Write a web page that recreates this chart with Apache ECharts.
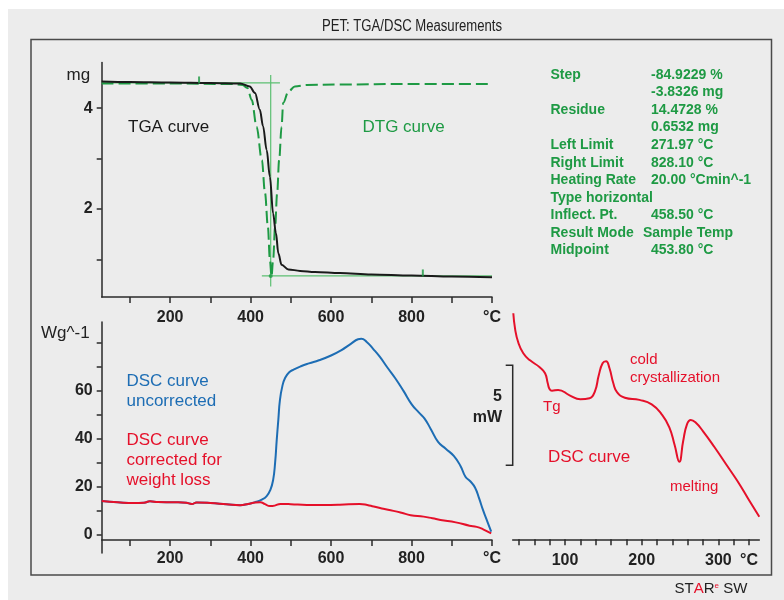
<!DOCTYPE html>
<html>
<head>
<meta charset="utf-8">
<script src="https://cdn.jsdelivr.net/npm/echarts@6/dist/echarts.min.js"></script>
<style>
html,body{margin:0;padding:0;background:#fff;}
#main{width:784px;height:600px;}
</style>
</head>
<body>
<div id="main"></div>
<script>
// ---- TGA / DTG (top panel), temperature in °C, mass in mg ----
const tgaTemp = [30, 100, 200, 300, 374, 398, 411, 423, 431, 440, 448, 456, 463, 469, 477, 494, 523, 560, 622, 700, 800, 900, 1000];
const tgaMass = [4.53, 4.52, 4.51, 4.50, 4.49, 4.43, 4.30, 3.97, 3.64, 3.17, 2.64, 1.91, 1.52, 1.12, 0.89, 0.80, 0.77, 0.75, 0.73, 0.70, 0.68, 0.66, 0.645];

const dtgTemp = [30, 200, 350, 380, 392, 403, 415, 428, 436, 443, 448, 452, 456, 461, 466, 471, 477, 481, 494, 510, 540, 620, 800, 1000];
const dtgValue = [4.49, 4.49, 4.48, 4.46, 4.40, 4.16, 3.63, 2.97, 2.31, 1.65, 0.99, 0.66, 0.99, 1.65, 2.31, 2.97, 3.63, 4.10, 4.33, 4.43, 4.46, 4.47, 4.48, 4.48];

// evaluation limits and step lines
const stepTop = 4.50;
const stepBottom = 0.67;
const stepTopEnd = 473;
const stepBottomStart = 428;
const midTemp = 450;
const midLineSpan = [0.46, 4.66];
const leftLimit = 271.97;
const rightLimit = 828.10;

// ---- DSC during decomposition (bottom-left panel), Wg^-1 ----
const dscRawTemp = [30, 70, 110, 135, 150, 170, 210, 240, 254, 266, 300, 340, 374, 394, 412, 428, 440, 449, 456, 461, 465, 469, 473, 479, 486, 496, 508, 525, 545, 570, 600, 625, 650, 667, 675, 688, 705, 721, 740, 760, 780, 800, 818, 832, 848, 866, 885, 905, 922, 934, 946, 958, 968, 978, 988, 998];
const dscRawValue = [13.9, 13.4, 13.1, 13.2, 13.8, 13.5, 13.4, 13.2, 12.7, 13.3, 13.1, 12.6, 12.2, 12.7, 13.5, 14.5, 16.0, 18.5, 22.7, 30.0, 39.5, 48.0, 56.2, 62.0, 65.5, 67.8, 69.0, 70.3, 71.5, 72.8, 74.8, 77.0, 79.8, 81.6, 81.8, 80.6, 77.5, 74.3, 69.8, 65.2, 60.0, 54.5, 51.0, 48.5, 44.0, 38.7, 35.8, 32.8, 28.5, 24.1, 22.2, 19.5, 15.0, 10.0, 5.5, 1.1];

const dscCorrTemp = [30, 70, 110, 135, 150, 170, 210, 240, 254, 266, 300, 340, 374, 394, 412, 424, 436, 448, 460, 474, 500, 540, 580, 622, 671, 690, 706, 730, 755, 775, 798, 830, 852, 872, 910, 944, 962, 978, 998];
const dscCorrValue = [13.9, 13.4, 13.1, 13.2, 13.8, 13.5, 13.4, 13.2, 12.7, 13.3, 13.1, 12.6, 12.2, 12.7, 13.3, 13.4, 12.6, 11.8, 12.0, 12.7, 12.6, 12.3, 12.3, 12.4, 12.7, 12.3, 11.6, 10.7, 9.8, 9.0, 8.0, 7.4, 6.7, 6.0, 5.0, 3.6, 3.1, 2.1, 0.4];

// ---- DSC of PET up to the melt (bottom-right panel), mW ----
const dscPetTemp = [32.6, 35, 39, 45.6, 54.4, 67, 74, 77.5, 80, 83, 91, 106, 120, 132, 139, 144, 149, 153.5, 158, 163, 168, 178, 197, 213, 226, 236, 243, 249, 254, 259, 264, 270, 280, 295, 310, 325, 340, 353.3];
const dscPetValue = [11.3, 10.5, 9.85, 9.3, 8.95, 8.6, 8.3, 7.8, 7.5, 7.43, 7.47, 7.2, 7.0, 7.05, 7.4, 8.2, 8.8, 8.9, 8.55, 7.8, 7.35, 7.08, 6.97, 6.75, 6.25, 5.6, 4.7, 3.88, 4.9, 5.75, 5.97, 5.85, 5.4, 4.6, 3.75, 2.9, 1.95, 1.13];
const scaleBar = [3.7, 8.7]; // 5 mW

// ---- axis ticks and labels ----
const tempTicks = [100, 200, 300, 400, 500, 600, 700, 800, 900, 1000];
const tempLabels = [200, 400, 600, 800, 1000];
const massTicks = [1, 2, 3, 4];
const massLabels = [2, 4];
const heatTicks = [0, 10, 20, 30, 40, 50, 60, 70, 80];
const heatLabels = [0, 20, 40, 60];
const petTicks = [40, 60, 80, 100, 120, 140, 160, 180, 200, 220, 240, 260, 280, 300, 320, 340];
const petLabels = [100, 200, 300, 340];

// evaluation results table
const resultNames = ['Step', '', 'Residue', '', 'Left Limit', 'Right Limit', 'Heating Rate', 'Type horizontal', 'Inflect. Pt.', 'Result Mode', 'Midpoint'];
const resultValues = ['-84.9229 %', '-3.8326 mg', '14.4728 %', '0.6532 mg', '271.97 °C', '828.10 °C', '20.00 °Cmin^-1', '', '458.50 °C', 'Sample Temp', '453.80 °C'];

const zip = (xs, ys) => xs.map((x, i) => [x, ys[i]]);

const FONT = "'Liberation Sans', Arial, sans-serif";
const AXIS = '#2a2a2a';
const GREEN = '#1e9a44';
const GREEN_LIGHT = '#5cbf72';
const BLUE = '#1d6db4';
const RED = '#e5102a';

const tickLabelStyle = { fontFamily: FONT, fontSize: 16, fontWeight: 'bold', color: '#222' };

function xAxisFor(gridIndex, min, max, ticks, labels, lastUnit, margin, offset) {
  return {
    type: 'value', gridIndex, min, max, offset: offset || 0,
    axisLine: { onZero: false, lineStyle: { color: AXIS, width: 1.5 } },
    axisTick: { customValues: ticks, length: 6, lineStyle: { color: AXIS, width: 1.5 } },
    axisLabel: Object.assign({
      customValues: labels, margin,
      formatter: v => (v === lastUnit ? '°C' : String(v))
    }, tickLabelStyle),
    splitLine: { show: false }
  };
}

function yAxisFor(gridIndex, min, max, ticks, labels) {
  return {
    type: 'value', gridIndex, min, max,
    axisLine: { show: true, onZero: false, lineStyle: { color: AXIS, width: 1.5 } },
    axisTick: { show: true, customValues: ticks, length: 5, lineStyle: { color: AXIS, width: 1.5 } },
    axisLabel: Object.assign({ customValues: labels, margin: 9 }, tickLabelStyle),
    splitLine: { show: false }
  };
}

function curve(name, xi, yi, data, color, width, extra) {
  return Object.assign({
    name, type: 'line', xAxisIndex: xi, yAxisIndex: yi, data,
    showSymbol: false, symbol: 'none', smooth: 0.5,
    lineStyle: { color, width }, silent: true, animation: false, z: 3
  }, extra || {});
}

function guide(name, data) {
  return {
    name, type: 'line', xAxisIndex: 0, yAxisIndex: 0, data, symbol: 'none',
    lineStyle: { color: GREEN_LIGHT, width: 1.2 }, silent: true, animation: false, z: 2
  };
}

function label(text, x, y, color, size, weight, align, extra) {
  return Object.assign({
    type: 'text', x, y, z: 10,
    style: {
      text, fill: color, font: (weight || 'normal') + ' ' + size + 'px ' + FONT,
      textAlign: align || 'left', textVerticalAlign: 'middle'
    }
  }, extra || {});
}

const chart = echarts.init(document.getElementById('main'), null, { renderer: 'canvas' });

const graphics = [
  { type: 'rect', id: 'bg', z: -20, silent: true, shape: { x: 8, y: 9, width: 776, height: 591 }, style: { fill: '#ececec' } },
  { type: 'rect', id: 'frame', z: -10, silent: true, shape: { x: 31, y: 39.5, width: 740.5, height: 535.5 }, style: { fill: 'none', stroke: '#4a4a4a', lineWidth: 1.5 } },
  // condensed heading: regular face squeezed horizontally
  label('PET: TGA/DSC Measurements', 412, 27, '#222', 16, 'normal', 'center', { scaleX: 0.82 }),
  label('mg', 66.5, 75, '#222', 17),
  label('Wg^-1', 41, 333, '#222', 17),
  label('TGA curve', 128, 127, '#1a1a1a', 17),
  label('DTG curve', 362.5, 127, GREEN, 17),
  label('DSC curve', 126.5, 381.5, BLUE, 17),
  label('uncorrected', 126.5, 401.5, BLUE, 17),
  label('DSC curve', 126.5, 440, RED, 17),
  label('corrected for', 126.5, 460, RED, 17),
  label('weight loss', 126.5, 480, RED, 17),
  label('cold', 630, 360, RED, 15),
  label('crystallization', 630, 377.5, RED, 15),
  label('Tg', 543, 407, RED, 15),
  label('DSC curve', 548, 457, RED, 17),
  label('melting', 670, 487, RED, 15),
  label('5', 502, 397, '#222', 16, 'bold', 'right'),
  label('mW', 502, 418, '#222', 16, 'bold', 'right'),
  {
    type: 'text', x: 711, y: 589, z: 10,
    style: {
      text: '{k|ST}{r|A}{k|R}{s|e}{k| SW}',
      textAlign: 'center', textVerticalAlign: 'middle',
      rich: {
        k: { fill: '#222', font: 'normal 15px ' + FONT },
        r: { fill: RED, font: 'normal 15px ' + FONT },
        s: { fill: RED, font: 'normal 8px ' + FONT, padding: [0, 0, 7, 0] }
      }
    }
  }
];

resultNames.forEach((n, i) => {
  const y = 75 + i * 17.53;
  if (n) graphics.push(label(n, 550.5, y, GREEN, 14, 'bold'));
  if (resultValues[i]) graphics.push(label(resultValues[i], n === 'Result Mode' ? 643 : 651, y, GREEN, 14, 'bold'));
});

const option = {
  backgroundColor: '#ffffff',
  animation: false,
  grid: [
    { left: 101.7, top: 62.5, width: 390.3, height: 234.5 },
    { left: 101.7, top: 322, width: 390.3, height: 231 },
    { left: 512.7, top: 299.3, width: 246.6, height: 240 }
  ],
  xAxis: [
    xAxisFor(0, 30, 1000, tempTicks, tempLabels, 1000, 13),
    xAxisFor(1, 30, 1000, tempTicks, tempLabels, 1000, 11, -13),
    xAxisFor(2, 31.8, 353.3, petTicks, petLabels, 340, 13)
  ],
  yAxis: [
    yAxisFor(0, 0.252, 4.906, massTicks, massLabels),
    yAxisFor(1, -7.82, 88.83, heatTicks, heatLabels),
    { type: 'value', gridIndex: 2, min: 0, max: 12, show: false }
  ],
  series: [
    guide('step top', [[30, stepTop], [stepTopEnd, stepTop]]),
    guide('step bottom', [[stepBottomStart, stepBottom], [1000, stepBottom]]),
    guide('midpoint', [[midTemp, midLineSpan[0]], [midTemp, midLineSpan[1]]]),
    curve('DTG', 0, 0, zip(dtgTemp, dtgValue), GREEN, 2, { smooth: 0.35, smoothMonotone: 'x', lineStyle: { color: GREEN, width: 2, type: [12, 5] } }),
    curve('TGA', 0, 0, zip(tgaTemp, tgaMass), '#1a1a1a', 2, { z: 4, smooth: 0.35, smoothMonotone: 'x' }),
    {
      name: 'limits', type: 'scatter', xAxisIndex: 0, yAxisIndex: 0, silent: true, animation: false, z: 5,
      symbol: 'rect', symbolSize: [2, 7], symbolOffset: [0, -3], itemStyle: { color: GREEN },
      data: [[leftLimit, stepTop], [rightLimit, stepBottom]]
    },
    {
      name: 'mid marker', type: 'scatter', xAxisIndex: 0, yAxisIndex: 0, silent: true, animation: false, z: 5,
      symbol: 'circle', symbolSize: 4, itemStyle: { color: GREEN },
      data: [[midTemp, stepBottom]]
    },
    curve('DSC uncorrected', 1, 1, zip(dscRawTemp, dscRawValue), BLUE, 2, { z: 3 }),
    curve('DSC corrected', 1, 1, zip(dscCorrTemp, dscCorrValue), RED, 2, { z: 4 }),
    curve('DSC PET', 2, 2, zip(dscPetTemp, dscPetValue), RED, 2)
  ],
  graphic: graphics
};

chart.setOption(option);

// 5 mW scale bar beside the PET DSC panel, placed through the panel's own scale
const xMinPet = option.xAxis[2].min;
const pTop = chart.convertToPixel({ gridIndex: 2 }, [xMinPet, scaleBar[1]]);
const pBot = chart.convertToPixel({ gridIndex: 2 }, [xMinPet, scaleBar[0]]);
chart.setOption({
  graphic: graphics.concat([{
    type: 'polyline', id: 'scalebar', z: 10, silent: true,
    shape: { points: [[pTop[0] - 7, pTop[1]], [pTop[0], pTop[1]], [pBot[0], pBot[1]], [pBot[0] - 7, pBot[1]]] },
    style: { stroke: '#2a2a2a', lineWidth: 1.5, fill: 'none' }
  }])
});
</script>
</body>
</html>
